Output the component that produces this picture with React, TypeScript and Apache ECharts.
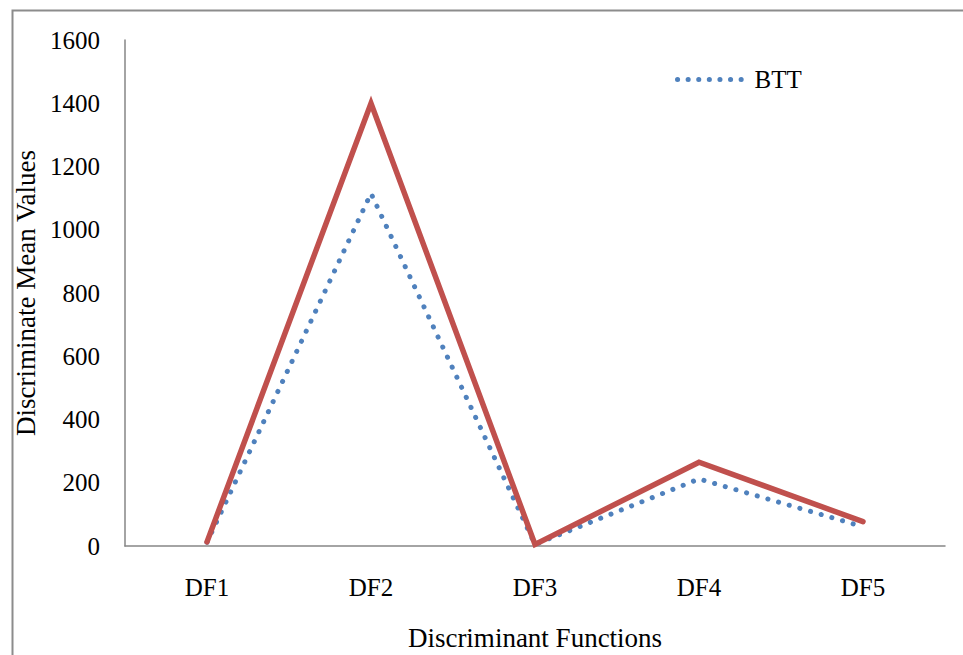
import React, { useEffect, useRef } from "react";
import * as echarts from "echarts";

const categories = ["DF1", "DF2", "DF3", "DF4", "DF5"];
const bttValues = [12, 1115, 5, 212, 61];
const otherValues = [13, 1400, 5, 265, 77];
const yTicks = { min: 0, max: 1600, interval: 200 };

const FONT = "'Liberation Serif', 'Times New Roman', serif";
const FONT_SIZE = 25;
const TITLE_SIZE = 27;

export default function App() {
  const ref = useRef<HTMLDivElement>(null);

  useEffect(() => {
    document.body.style.margin = "0";
    if (!ref.current) return;
    const chart = echarts.init(ref.current, null, { renderer: "svg" });
    chart.setOption({
      animation: false,
      backgroundColor: "#ffffff",
      textStyle: { fontFamily: FONT, color: "#000" },
      grid: { left: 125, right: 18, top: 40, bottom: 109, outerBoundsMode: "none", containLabel: false },
      legend: {
        data: ["BTT"],
        left: 670,
        top: 62,
        itemWidth: 72,
        itemHeight: 8,
        itemGap: 8,
        itemStyle: { opacity: 0 },
        lineStyle: { color: "#4F81BD", width: 5, type: [0.1, 10.5], cap: "round" },
        textStyle: { fontFamily: FONT, fontSize: FONT_SIZE, color: "#000" },
      },
      graphic: [
        {
          type: "rect",
          left: 10,
          top: 8,
          shape: { x: 0, y: 0, width: 1000, height: 700 },
          style: { fill: "none", stroke: "#8c8c8c", lineWidth: 2 },
          silent: true,
        },
      ],
      xAxis: {
        type: "category",
        data: categories,
        boundaryGap: true,
        name: "Discriminant Functions",
        nameLocation: "middle",
        nameGap: 78,
        nameTextStyle: { fontFamily: FONT, fontSize: TITLE_SIZE, color: "#000" },
        axisLine: { lineStyle: { color: "#868686", width: 1.5 } },
        axisTick: { show: false },
        axisLabel: { fontFamily: FONT, fontSize: FONT_SIZE, color: "#000", margin: 29 },
        splitLine: { show: false },
      },
      yAxis: {
        type: "value",
        min: yTicks.min,
        max: yTicks.max,
        interval: yTicks.interval,
        name: "Discriminate Mean Values",
        nameLocation: "middle",
        nameGap: 79,
        nameTextStyle: { fontFamily: FONT, fontSize: TITLE_SIZE, color: "#000" },
        axisLine: { show: true, lineStyle: { color: "#868686", width: 1.5 } },
        axisTick: { show: false },
        axisLabel: {
          fontFamily: FONT,
          fontSize: FONT_SIZE,
          color: "#000",
          margin: 25,
          formatter: (v: number) => String(v),
        },
        splitLine: { show: false },
      },
      series: [
        {
          name: "BTT",
          type: "line",
          data: bttValues,
          symbol: "none",
          lineStyle: {
            color: "#4F81BD",
            width: 5,
            type: [0.1, 11],
            cap: "round",
          },
          itemStyle: { color: "#4F81BD" },
        },
        {
          name: "Other",
          type: "line",
          data: otherValues,
          symbol: "none",
          lineStyle: { color: "#C0504D", width: 5.5, cap: "round", join: "miter" },
          itemStyle: { color: "#C0504D" },
        },
      ],
    });
    return () => chart.dispose();
  }, []);

  return <div ref={ref} style={{ width: 963, height: 655 }} />;
}
